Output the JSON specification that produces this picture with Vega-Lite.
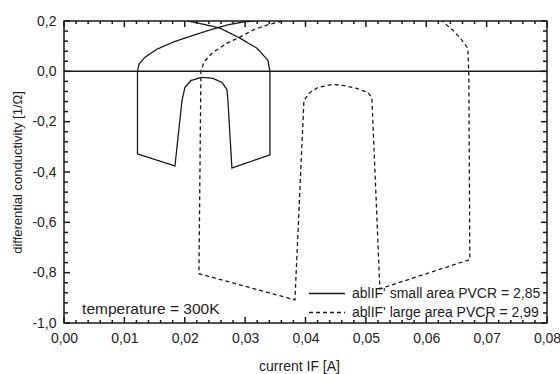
{
  "$schema": "https://vega.github.io/schema/vega-lite/v6.json",
  "width": 483,
  "height": 302,
  "autosize": {"type": "none"},
  "padding": {"left": 64, "top": 21, "right": 13, "bottom": 51},
  "background": "#ffffff",
  "config": {
    "font": "Liberation Sans",
    "view": {"stroke": "#1a1a1a", "strokeWidth": 1.5},
    "axis": {
      "labelFont": "Liberation Sans",
      "labelFontSize": 14,
      "labelColor": "#222222",
      "labelOverlap": false,
      "labelFlush": false,
      "titleFont": "Liberation Sans",
      "titleFontWeight": "normal",
      "titleColor": "#222222"
    }
  },
  "datasets": {
    "xticks": [
      {"v": 0, "kind": "major"}, {"v": 0.002, "kind": "minor"}, {"v": 0.004, "kind": "minor"}, {"v": 0.006, "kind": "minor"}, {"v": 0.008, "kind": "minor"},
      {"v": 0.01, "kind": "major"}, {"v": 0.012, "kind": "minor"}, {"v": 0.014, "kind": "minor"}, {"v": 0.016, "kind": "minor"}, {"v": 0.018, "kind": "minor"},
      {"v": 0.02, "kind": "major"}, {"v": 0.022, "kind": "minor"}, {"v": 0.024, "kind": "minor"}, {"v": 0.026, "kind": "minor"}, {"v": 0.028, "kind": "minor"},
      {"v": 0.03, "kind": "major"}, {"v": 0.032, "kind": "minor"}, {"v": 0.034, "kind": "minor"}, {"v": 0.036, "kind": "minor"}, {"v": 0.038, "kind": "minor"},
      {"v": 0.04, "kind": "major"}, {"v": 0.042, "kind": "minor"}, {"v": 0.044, "kind": "minor"}, {"v": 0.046, "kind": "minor"}, {"v": 0.048, "kind": "minor"},
      {"v": 0.05, "kind": "major"}, {"v": 0.052, "kind": "minor"}, {"v": 0.054, "kind": "minor"}, {"v": 0.056, "kind": "minor"}, {"v": 0.058, "kind": "minor"},
      {"v": 0.06, "kind": "major"}, {"v": 0.062, "kind": "minor"}, {"v": 0.064, "kind": "minor"}, {"v": 0.066, "kind": "minor"}, {"v": 0.068, "kind": "minor"},
      {"v": 0.07, "kind": "major"}, {"v": 0.072, "kind": "minor"}, {"v": 0.074, "kind": "minor"}, {"v": 0.076, "kind": "minor"}, {"v": 0.078, "kind": "minor"},
      {"v": 0.08, "kind": "major"}
    ],
    "yticks": [
      {"v": -1, "kind": "major"}, {"v": -0.96, "kind": "minor"}, {"v": -0.92, "kind": "minor"}, {"v": -0.88, "kind": "minor"}, {"v": -0.84, "kind": "minor"},
      {"v": -0.8, "kind": "major"}, {"v": -0.76, "kind": "minor"}, {"v": -0.72, "kind": "minor"}, {"v": -0.68, "kind": "minor"}, {"v": -0.64, "kind": "minor"},
      {"v": -0.6, "kind": "major"}, {"v": -0.56, "kind": "minor"}, {"v": -0.52, "kind": "minor"}, {"v": -0.48, "kind": "minor"}, {"v": -0.44, "kind": "minor"},
      {"v": -0.4, "kind": "major"}, {"v": -0.36, "kind": "minor"}, {"v": -0.32, "kind": "minor"}, {"v": -0.28, "kind": "minor"}, {"v": -0.24, "kind": "minor"},
      {"v": -0.2, "kind": "major"}, {"v": -0.16, "kind": "minor"}, {"v": -0.12, "kind": "minor"}, {"v": -0.08, "kind": "minor"}, {"v": -0.04, "kind": "minor"},
      {"v": 0, "kind": "major"}, {"v": 0.04, "kind": "minor"}, {"v": 0.08, "kind": "minor"}, {"v": 0.12, "kind": "minor"}, {"v": 0.16, "kind": "minor"},
      {"v": 0.2, "kind": "major"}
    ],
    "curves": [
      {"series": "ablIF' small area PVCR = 2,85", "order": 1, "x": 0.03162, "y": 0.2},
      {"series": "ablIF' small area PVCR = 2,85", "order": 2, "x": 0.02964, "y": 0.196},
      {"series": "ablIF' small area PVCR = 2,85", "order": 3, "x": 0.02699, "y": 0.184},
      {"series": "ablIF' small area PVCR = 2,85", "order": 4, "x": 0.02467, "y": 0.168},
      {"series": "ablIF' small area PVCR = 2,85", "order": 5, "x": 0.02202, "y": 0.148},
      {"series": "ablIF' small area PVCR = 2,85", "order": 6, "x": 0.01805, "y": 0.116},
      {"series": "ablIF' small area PVCR = 2,85", "order": 7, "x": 0.0154, "y": 0.088},
      {"series": "ablIF' small area PVCR = 2,85", "order": 8, "x": 0.01341, "y": 0.056},
      {"series": "ablIF' small area PVCR = 2,85", "order": 9, "x": 0.01242, "y": 0.028},
      {"series": "ablIF' small area PVCR = 2,85", "order": 10, "x": 0.01217, "y": 0.0},
      {"series": "ablIF' small area PVCR = 2,85", "order": 11, "x": 0.01217, "y": -0.328},
      {"series": "ablIF' small area PVCR = 2,85", "order": 12, "x": 0.01838, "y": -0.376},
      {"series": "ablIF' small area PVCR = 2,85", "order": 13, "x": 0.01954, "y": -0.116},
      {"series": "ablIF' small area PVCR = 2,85", "order": 14, "x": 0.02003, "y": -0.064},
      {"series": "ablIF' small area PVCR = 2,85", "order": 15, "x": 0.02103, "y": -0.036},
      {"series": "ablIF' small area PVCR = 2,85", "order": 16, "x": 0.02285, "y": -0.024},
      {"series": "ablIF' small area PVCR = 2,85", "order": 17, "x": 0.02467, "y": -0.028},
      {"series": "ablIF' small area PVCR = 2,85", "order": 18, "x": 0.02616, "y": -0.044},
      {"series": "ablIF' small area PVCR = 2,85", "order": 19, "x": 0.02699, "y": -0.072},
      {"series": "ablIF' small area PVCR = 2,85", "order": 20, "x": 0.02715, "y": -0.116},
      {"series": "ablIF' small area PVCR = 2,85", "order": 21, "x": 0.02781, "y": -0.384},
      {"series": "ablIF' small area PVCR = 2,85", "order": 22, "x": 0.03411, "y": -0.332},
      {"series": "ablIF' small area PVCR = 2,85", "order": 23, "x": 0.03411, "y": 0.0},
      {"series": "ablIF' small area PVCR = 2,85", "order": 24, "x": 0.03377, "y": 0.044},
      {"series": "ablIF' small area PVCR = 2,85", "order": 25, "x": 0.03195, "y": 0.092},
      {"series": "ablIF' small area PVCR = 2,85", "order": 26, "x": 0.02914, "y": 0.132},
      {"series": "ablIF' small area PVCR = 2,85", "order": 27, "x": 0.02583, "y": 0.172},
      {"series": "ablIF' small area PVCR = 2,85", "order": 28, "x": 0.02368, "y": 0.184},
      {"series": "ablIF' small area PVCR = 2,85", "order": 29, "x": 0.02053, "y": 0.2},
      {"series": "ablIF' large area PVCR = 2,99", "order": 1, "x": 0.03609, "y": 0.2},
      {"series": "ablIF' large area PVCR = 2,99", "order": 2, "x": 0.03361, "y": 0.184},
      {"series": "ablIF' large area PVCR = 2,99", "order": 3, "x": 0.03129, "y": 0.164},
      {"series": "ablIF' large area PVCR = 2,99", "order": 4, "x": 0.02914, "y": 0.136},
      {"series": "ablIF' large area PVCR = 2,99", "order": 5, "x": 0.02699, "y": 0.112},
      {"series": "ablIF' large area PVCR = 2,99", "order": 6, "x": 0.0245, "y": 0.072},
      {"series": "ablIF' large area PVCR = 2,99", "order": 7, "x": 0.02318, "y": 0.036},
      {"series": "ablIF' large area PVCR = 2,99", "order": 8, "x": 0.02268, "y": 0.0},
      {"series": "ablIF' large area PVCR = 2,99", "order": 9, "x": 0.02235, "y": -0.804},
      {"series": "ablIF' large area PVCR = 2,99", "order": 10, "x": 0.03825, "y": -0.908},
      {"series": "ablIF' large area PVCR = 2,99", "order": 11, "x": 0.03974, "y": -0.116},
      {"series": "ablIF' large area PVCR = 2,99", "order": 12, "x": 0.04073, "y": -0.084},
      {"series": "ablIF' large area PVCR = 2,99", "order": 13, "x": 0.04205, "y": -0.064},
      {"series": "ablIF' large area PVCR = 2,99", "order": 14, "x": 0.04454, "y": -0.052},
      {"series": "ablIF' large area PVCR = 2,99", "order": 15, "x": 0.04619, "y": -0.056},
      {"series": "ablIF' large area PVCR = 2,99", "order": 16, "x": 0.04851, "y": -0.068},
      {"series": "ablIF' large area PVCR = 2,99", "order": 17, "x": 0.05033, "y": -0.084},
      {"series": "ablIF' large area PVCR = 2,99", "order": 18, "x": 0.05099, "y": -0.104},
      {"series": "ablIF' large area PVCR = 2,99", "order": 19, "x": 0.05232, "y": -0.864},
      {"series": "ablIF' large area PVCR = 2,99", "order": 20, "x": 0.06722, "y": -0.748},
      {"series": "ablIF' large area PVCR = 2,99", "order": 21, "x": 0.06705, "y": -0.012},
      {"series": "ablIF' large area PVCR = 2,99", "order": 22, "x": 0.06689, "y": 0.092},
      {"series": "ablIF' large area PVCR = 2,99", "order": 23, "x": 0.06589, "y": 0.124},
      {"series": "ablIF' large area PVCR = 2,99", "order": 24, "x": 0.0644, "y": 0.164},
      {"series": "ablIF' large area PVCR = 2,99", "order": 25, "x": 0.06258, "y": 0.2}
    ]
  },
  "layer": [
    {
      "data": {"name": "curves"},
      "mark": {"type": "line", "color": "#1a1a1a", "strokeWidth": 1.3, "clip": true},
      "encoding": {
        "x": {
          "field": "x", "type": "quantitative",
          "scale": {"domain": [0, 0.08], "nice": false, "zero": false},
          "axis": {
            "orient": "bottom",
            "domain": false,
            "grid": false,
            "ticks": false,
            "values": [0, 0.01, 0.02, 0.03, 0.04, 0.05, 0.06, 0.07, 0.08],
            "labelExpr": "replace(format(datum.value, '.2f'), '.', ',')",
            "labelPadding": 8,
            "title": "current IF [A]",
            "titleFontSize": 14,
            "titleX": 235,
            "titleY": 43,
            "titleBaseline": "middle"
          }
        },
        "y": {
          "field": "y", "type": "quantitative",
          "scale": {"domain": [-1, 0.2], "nice": false, "zero": false},
          "axis": {
            "orient": "left",
            "domain": false,
            "grid": false,
            "ticks": false,
            "values": [-1, -0.8, -0.6, -0.4, -0.2, 0, 0.2],
            "labelExpr": "(datum.value < -0.001 ? '-' : '') + replace(format(abs(datum.value), '.1f'), '.', ',')",
            "labelPadding": 8,
            "title": "differential conductivity [1/Ω]",
            "titleFontSize": 13,
            "titleAngle": -90,
            "titleX": -47,
            "titleY": 151,
            "titleAlign": "center",
            "titleBaseline": "middle"
          }
        },
        "detail": {"field": "series", "type": "nominal"},
        "order": {"field": "order", "type": "quantitative"},
        "strokeDash": {
          "field": "series", "type": "nominal",
          "scale": {
            "domain": ["ablIF' small area PVCR = 2,85", "ablIF' large area PVCR = 2,99"],
            "range": [[1, 0], [4, 3]]
          },
          "legend": {
            "orient": "none",
            "legendX": 244,
            "legendY": 264,
            "title": null,
            "padding": 0,
            "symbolType": "stroke",
            "symbolSize": 1300,
            "symbolStrokeColor": "#1a1a1a",
            "symbolStrokeWidth": 1.3,
            "labelFont": "Liberation Sans",
            "labelFontSize": 14,
            "labelColor": "#222222",
            "labelOffset": 6,
            "clipHeight": 17,
            "rowPadding": 2,
            "labelLimit": 300
          }
        }
      }
    },
    {
      "data": {"values": [{}]},
      "mark": {"type": "rule", "color": "#1a1a1a", "strokeWidth": 1.5},
      "encoding": {
        "x": {"datum": 0, "type": "quantitative"},
        "x2": {"datum": 0.08},
        "y": {"datum": 0, "type": "quantitative"}
      }
    },
    {
      "data": {"values": [{}]},
      "mark": {"type": "text", "text": "temperature = 300K", "align": "left", "baseline": "middle", "font": "Liberation Sans", "fontSize": 15.5, "color": "#222222"},
      "encoding": {
        "x": {"datum": 0.003, "type": "quantitative"},
        "y": {"datum": -0.944, "type": "quantitative"}
      }
    },
    {
      "data": {"name": "xticks"},
      "transform": [{"filter": "datum.kind == 'major'"}],
      "mark": {"type": "rule", "color": "#1a1a1a", "strokeWidth": 1.5},
      "encoding": {
        "x": {"field": "v", "type": "quantitative"},
        "y": {"datum": -1, "type": "quantitative"},
        "y2": {"datum": -0.976}
      }
    },
    {
      "data": {"name": "xticks"},
      "transform": [{"filter": "datum.kind == 'minor'"}],
      "mark": {"type": "rule", "color": "#1a1a1a", "strokeWidth": 1.5},
      "encoding": {
        "x": {"field": "v", "type": "quantitative"},
        "y": {"datum": -1, "type": "quantitative"},
        "y2": {"datum": -0.988}
      }
    },
    {
      "data": {"name": "xticks"},
      "transform": [{"filter": "datum.kind == 'major'"}],
      "mark": {"type": "rule", "color": "#1a1a1a", "strokeWidth": 1.5},
      "encoding": {
        "x": {"field": "v", "type": "quantitative"},
        "y": {"datum": 0.2, "type": "quantitative"},
        "y2": {"datum": 0.176}
      }
    },
    {
      "data": {"name": "xticks"},
      "transform": [{"filter": "datum.kind == 'minor'"}],
      "mark": {"type": "rule", "color": "#1a1a1a", "strokeWidth": 1.5},
      "encoding": {
        "x": {"field": "v", "type": "quantitative"},
        "y": {"datum": 0.2, "type": "quantitative"},
        "y2": {"datum": 0.188}
      }
    },
    {
      "data": {"name": "yticks"},
      "transform": [{"filter": "datum.kind == 'major'"}],
      "mark": {"type": "rule", "color": "#1a1a1a", "strokeWidth": 1.5},
      "encoding": {
        "y": {"field": "v", "type": "quantitative"},
        "x": {"datum": 0, "type": "quantitative"},
        "x2": {"datum": 0.001}
      }
    },
    {
      "data": {"name": "yticks"},
      "transform": [{"filter": "datum.kind == 'minor'"}],
      "mark": {"type": "rule", "color": "#1a1a1a", "strokeWidth": 1.5},
      "encoding": {
        "y": {"field": "v", "type": "quantitative"},
        "x": {"datum": 0, "type": "quantitative"},
        "x2": {"datum": 0.00066}
      }
    },
    {
      "data": {"name": "yticks"},
      "transform": [{"filter": "datum.kind == 'major'"}],
      "mark": {"type": "rule", "color": "#1a1a1a", "strokeWidth": 1.5},
      "encoding": {
        "y": {"field": "v", "type": "quantitative"},
        "x": {"datum": 0.08, "type": "quantitative"},
        "x2": {"datum": 0.079}
      }
    },
    {
      "data": {"name": "yticks"},
      "transform": [{"filter": "datum.kind == 'minor'"}],
      "mark": {"type": "rule", "color": "#1a1a1a", "strokeWidth": 1.5},
      "encoding": {
        "y": {"field": "v", "type": "quantitative"},
        "x": {"datum": 0.08, "type": "quantitative"},
        "x2": {"datum": 0.07934}
      }
    }
  ]
}
